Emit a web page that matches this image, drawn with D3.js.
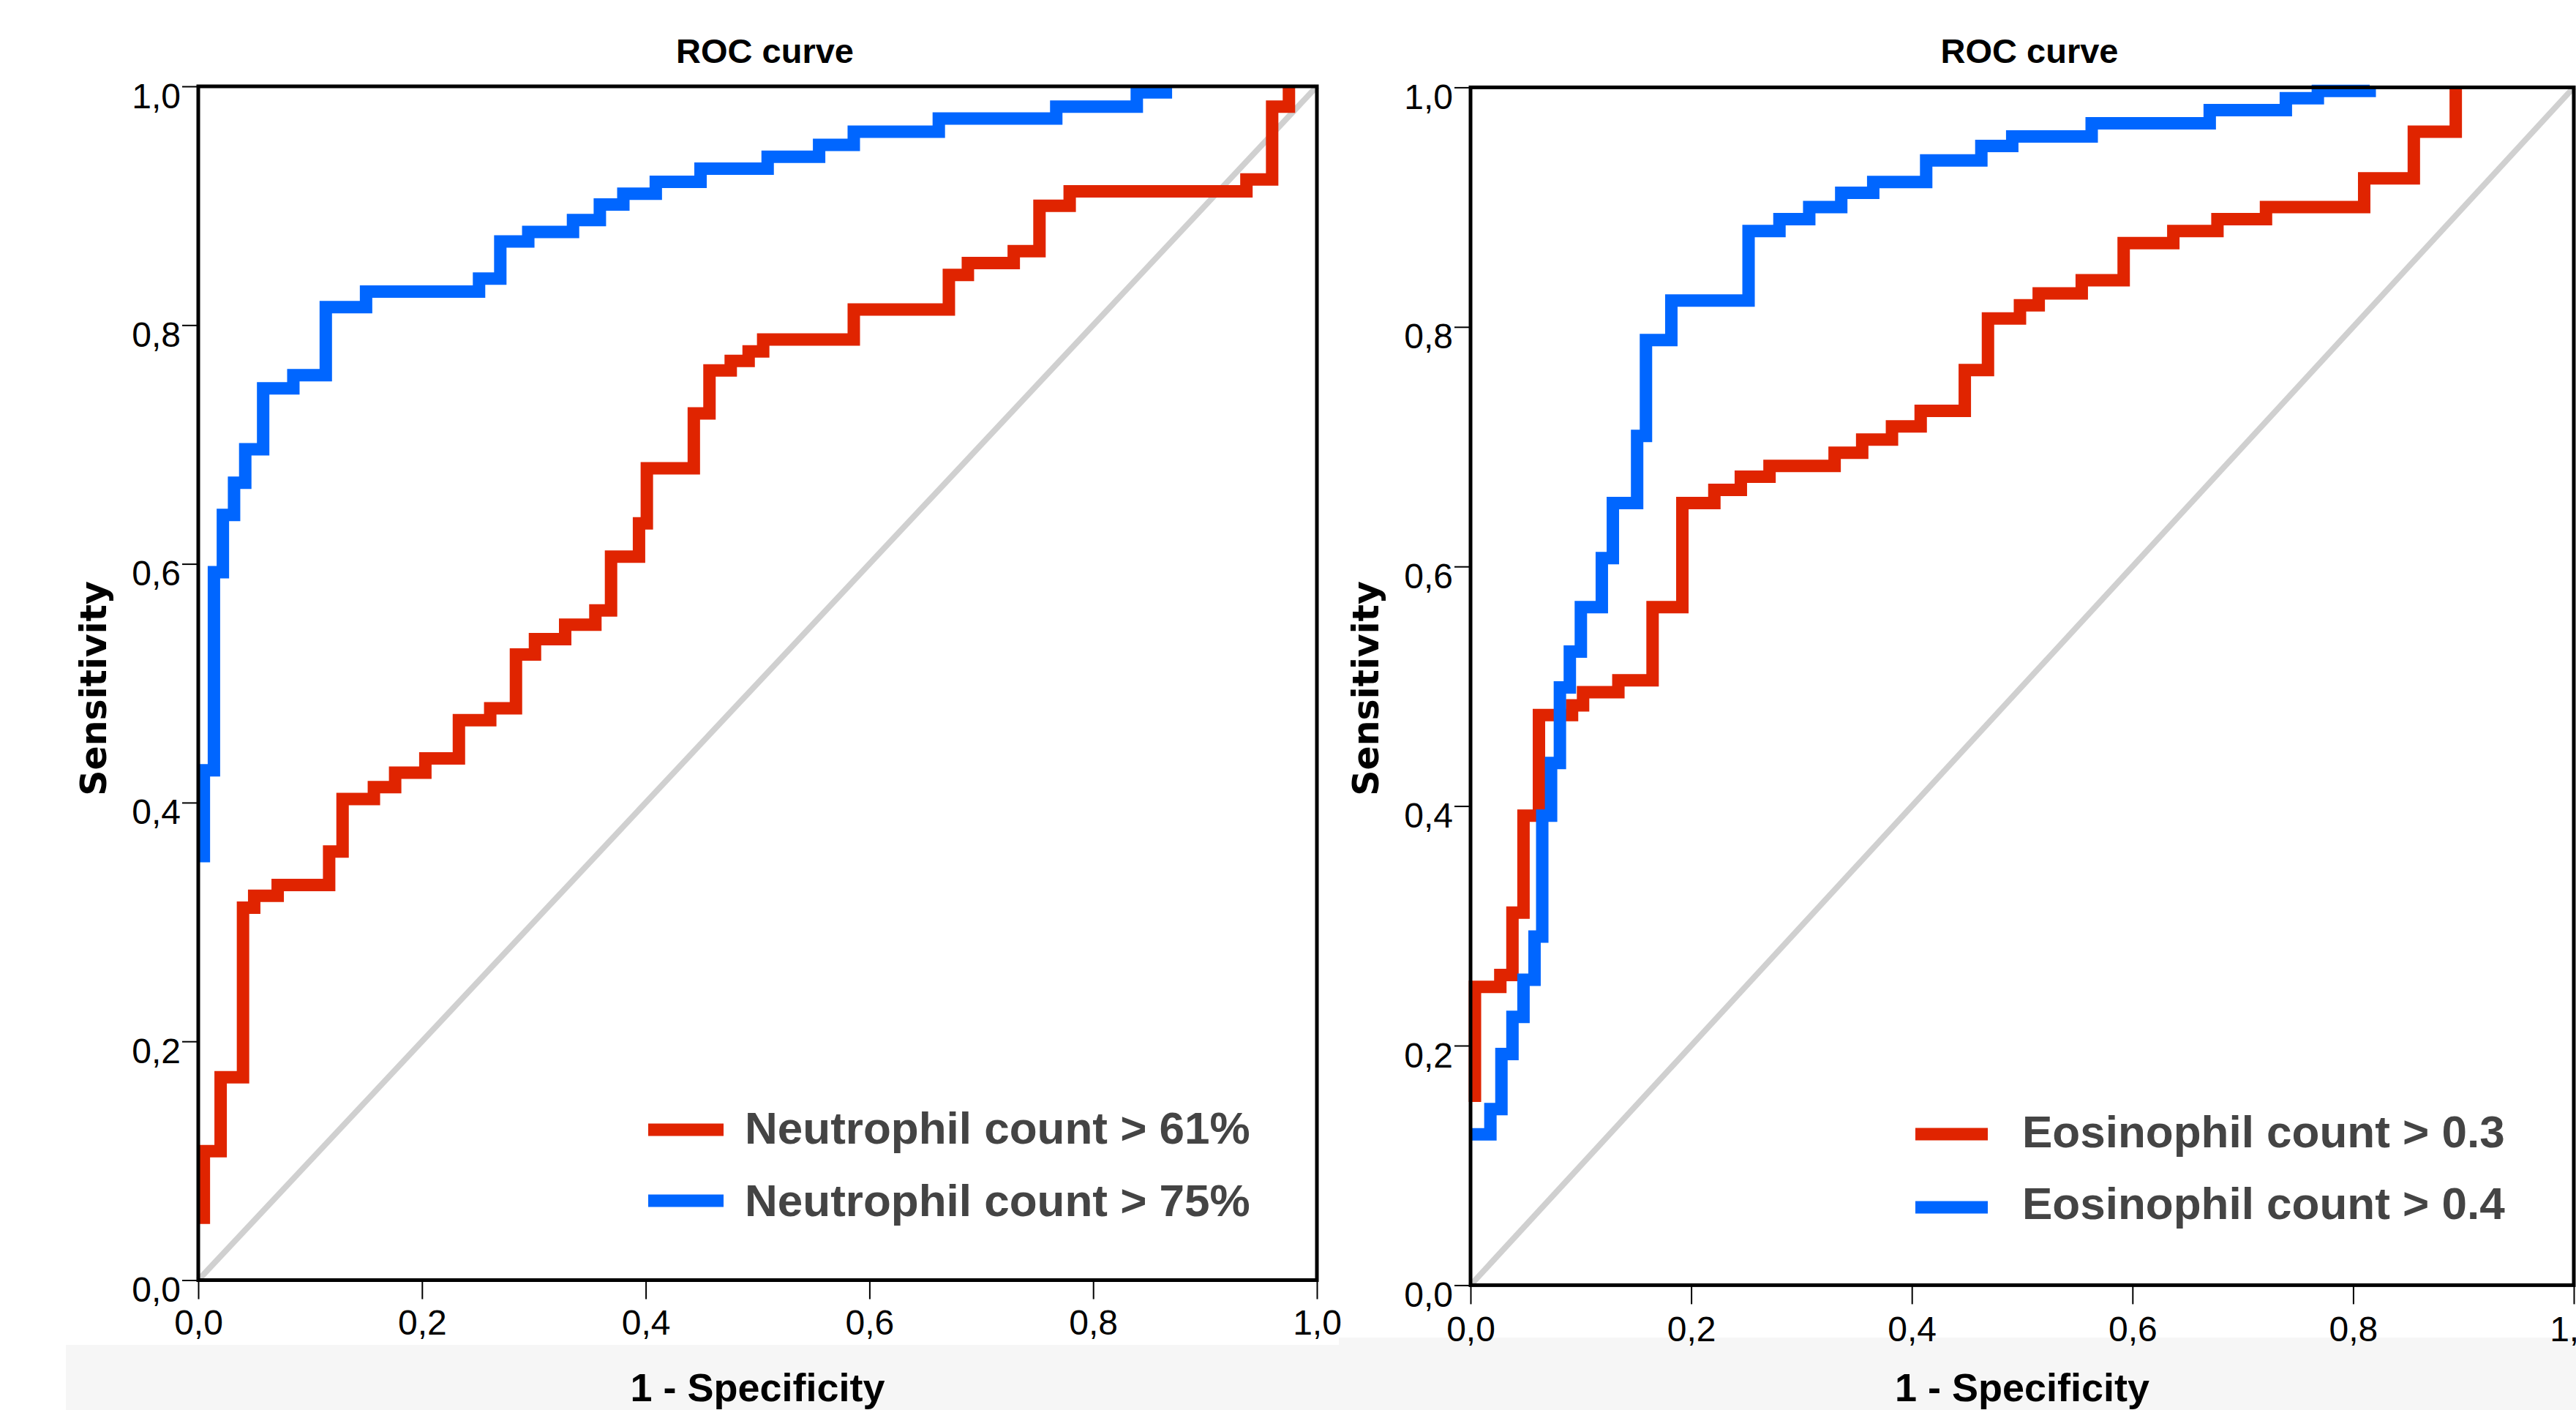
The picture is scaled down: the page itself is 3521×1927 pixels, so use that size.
<!DOCTYPE html>
<html>
<head>
<meta charset="utf-8">
<script src="https://cdn.jsdelivr.net/npm/d3@7"></script>
<style>
  body { margin: 0; background: #fff; }
  svg { display: block; }
</style>
</head>
<body>
<svg id="chart"></svg>
<script>
// ROC points (1 - specificity, sensitivity)
const neut61Fpr = [0.005, 0.005, 0.020, 0.040, 0.050, 0.071, 0.117, 0.129, 0.157, 0.176, 0.203, 0.233, 0.261, 0.284, 0.301, 0.328, 0.355, 0.369, 0.394, 0.401, 0.443, 0.457, 0.476, 0.492, 0.505, 0.586, 0.671, 0.688, 0.729, 0.752, 0.779, 0.937, 0.960, 0.975];
const neut61Tpr = [0.047, 0.108, 0.170, 0.312, 0.322, 0.331, 0.359, 0.403, 0.413, 0.425, 0.437, 0.469, 0.479, 0.524, 0.537, 0.549, 0.561, 0.606, 0.634, 0.680, 0.726, 0.762, 0.770, 0.778, 0.788, 0.813, 0.842, 0.852, 0.862, 0.900, 0.912, 0.922, 0.983, 1.000];

const neut75Fpr = [0.005, 0.005, 0.014, 0.022, 0.032, 0.042, 0.058, 0.085, 0.114, 0.150, 0.251, 0.270, 0.295, 0.335, 0.359, 0.380, 0.409, 0.449, 0.509, 0.555, 0.586, 0.662, 0.767, 0.839, 0.865];
const neut75Tpr = [0.350, 0.427, 0.593, 0.641, 0.668, 0.696, 0.747, 0.758, 0.815, 0.828, 0.839, 0.870, 0.878, 0.888, 0.901, 0.910, 0.920, 0.931, 0.941, 0.951, 0.962, 0.973, 0.983, 0.995, 1.000];

const eos03Fpr = [0.004, 0.004, 0.027, 0.038, 0.048, 0.062, 0.092, 0.102, 0.134, 0.165, 0.192, 0.221, 0.245, 0.271, 0.330, 0.355, 0.382, 0.408, 0.448, 0.469, 0.498, 0.515, 0.554, 0.592, 0.637, 0.677, 0.721, 0.810, 0.855, 0.893];
const eos03Tpr = [0.153, 0.249, 0.259, 0.311, 0.392, 0.476, 0.484, 0.495, 0.505, 0.566, 0.653, 0.664, 0.675, 0.684, 0.695, 0.706, 0.717, 0.730, 0.764, 0.807, 0.818, 0.828, 0.839, 0.870, 0.880, 0.890, 0.900, 0.924, 0.963, 1.000];

const eos04Fpr = [0.000, 0.018, 0.028, 0.038, 0.048, 0.058, 0.065, 0.073, 0.081, 0.090, 0.100, 0.119, 0.129, 0.151, 0.159, 0.182, 0.252, 0.280, 0.307, 0.336, 0.365, 0.413, 0.463, 0.491, 0.563, 0.670, 0.739, 0.768, 0.815];
const eos04Tpr = [0.126, 0.147, 0.193, 0.224, 0.255, 0.291, 0.392, 0.436, 0.499, 0.529, 0.566, 0.607, 0.653, 0.709, 0.789, 0.822, 0.880, 0.890, 0.900, 0.912, 0.921, 0.939, 0.951, 0.959, 0.970, 0.981, 0.991, 0.997, 1.000];

const tickValues = [0, 0.2, 0.4, 0.6, 0.8, 1.0];
const neutLabels = ['Neutrophil count > 61%', 'Neutrophil count > 75%'];
const eosLabels = ['Eosinophil count > 0.3', 'Eosinophil count > 0.4'];
const chartTitle = 'ROC curve';
const xTitle = '1 - Specificity';
const yTitle = 'Sensitivity';

const red = '#e02400';
const blue = '#0066ff';

const W = 3521, H = 1927;
const svg = d3.select('#chart').attr('width', W).attr('height', H);

// faint grey strips under the x titles
svg.append('rect').attr('x', 90).attr('y', 1838).attr('width', 1740).attr('height', H - 1838).attr('fill', '#f6f6f6');
svg.append('rect').attr('x', 1830).attr('y', 1828).attr('width', W - 1830).attr('height', H - 1828).attr('fill', '#f6f6f6');

const fmt = d3.formatLocale({decimal: ',', thousands: '.', grouping: [3], currency: ['', '']}).format('.1f');

const zip = (xs, ys) => xs.map((v, i) => [v, ys[i]]);

const panels = [
    {x0: 271, x1: 1800, yTop: 118, yBot: 1749.5,
     series: [zip(neut61Fpr, neut61Tpr), zip(neut75Fpr, neut75Tpr)], labels: neutLabels,
     legLine: [886, 989], legText: 1018, legY: [1544, 1641], legBase: [1563, 1662],
     yTitleX: 128, xTickBase: 74},
    {x0: 2010, x1: 3518, yTop: 119.4, yBot: 1756.4,
     series: [zip(eos03Fpr, eos03Tpr), zip(eos04Fpr, eos04Tpr)], labels: eosLabels,
     legLine: [2618, 2717], legText: 2764, legY: [1550, 1650], legBase: [1568, 1666],
     yTitleX: 1867, xTickBase: 77}
];

panels.forEach(function(p) {
    var x = d3.scaleLinear().domain([0, 1]).range([p.x0, p.x1]);
    var y = d3.scaleLinear().domain([0, 1]).range([p.yBot, p.yTop]);
    var g = svg.append('g');

    // reference diagonal
    g.append('line')
        .attr('x1', x(0)).attr('y1', y(0))
        .attr('x2', x(1)).attr('y2', y(1))
        .attr('stroke', '#d0d0d0')
        .attr('stroke-width', 8);

    var line = d3.line()
        .x(d => x(d[0]))
        .y(d => y(d[1]))
        .curve(d3.curveStepAfter);

    var colors = [red, blue];
    p.series.forEach(function(s, i) {
        g.append('path')
            .datum(s)
            .attr('d', line)
            .attr('fill', 'none')
            .attr('stroke', colors[i])
            .attr('stroke-width', 17)
            .attr('stroke-linejoin', 'miter')
            .attr('stroke-linecap', 'butt');
    });

    // frame
    g.append('rect')
        .attr('x', p.x0).attr('y', p.yTop)
        .attr('width', p.x1 - p.x0).attr('height', p.yBot - p.yTop)
        .attr('fill', 'none')
        .attr('stroke', '#000')
        .attr('stroke-width', 5);

    var yAxis = g.append('g')
        .attr('transform', 'translate(' + p.x0 + ',0)')
        .call(d3.axisLeft(y).tickValues(tickValues).tickSize(22).tickFormat(fmt));
    yAxis.select('.domain').remove();
    yAxis.selectAll('line').attr('stroke', '#000').attr('stroke-width', 2);
    yAxis.selectAll('text')
        .attr('x', -24).attr('dy', null).attr('y', 29)
        .style('font-family', '"Liberation Sans", Arial, sans-serif')
        .style('font-size', '48px')
        .attr('fill', '#000');

    var xAxis = g.append('g')
        .attr('transform', 'translate(0,' + p.yBot + ')')
        .call(d3.axisBottom(x).tickValues(tickValues).tickSize(26).tickFormat(fmt));
    xAxis.select('.domain').remove();
    xAxis.selectAll('line').attr('stroke', '#000').attr('stroke-width', 2);
    xAxis.selectAll('text')
        .attr('dy', null).attr('y', p.xTickBase)
        .style('font-family', '"Liberation Sans", Arial, sans-serif')
        .style('font-size', '48px')
        .attr('fill', '#000');

    var cx = (p.x0 + p.x1) / 2;

    g.append('text')
        .attr('x', cx + 10).attr('y', 86)
        .attr('text-anchor', 'middle')
        .style('font-family', '"Liberation Sans", Arial, sans-serif')
        .style('font-weight', 'bold')
        .style('font-size', '47px')
        .text(chartTitle);

    g.append('text')
        .attr('x', cx).attr('y', 1915)
        .attr('text-anchor', 'middle')
        .style('font-family', '"Liberation Sans", Arial, sans-serif')
        .style('font-weight', 'bold')
        .style('font-size', '54px')
        .text(xTitle);

    g.append('text')
        .attr('transform', 'translate(' + (p.yTitleX + 17) + ',941) rotate(-90)')
        .attr('text-anchor', 'middle')
        .style('font-family', '"DejaVu Sans", sans-serif')
        .style('font-weight', 'bold')
        .style('font-size', '49px')
        .text(yTitle);

    // legend
    p.labels.forEach(function(lab, i) {
        g.append('line')
            .attr('x1', p.legLine[0]).attr('x2', p.legLine[1])
            .attr('y1', p.legY[i]).attr('y2', p.legY[i])
            .attr('stroke', colors[i])
            .attr('stroke-width', 17);
        g.append('text')
            .attr('x', p.legText).attr('y', p.legBase[i])
            .style('font-family', '"Liberation Sans", Arial, sans-serif')
            .style('font-weight', 'bold')
            .style('font-size', '62px')
            .attr('fill', '#444')
            .text(lab);
    });
});
</script>
</body>
</html>
